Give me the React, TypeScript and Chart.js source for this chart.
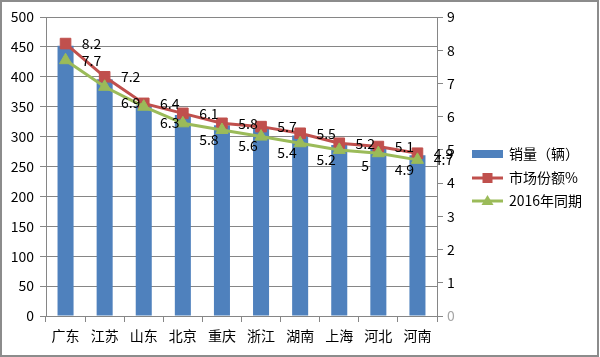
import React, { useEffect, useRef } from "react";
import { Chart, registerables } from "chart.js";

Chart.register(...registerables);

const categories = ["广东", "江苏", "山东", "北京", "重庆", "浙江", "湖南", "上海", "河北", "河南"];
const sales = [452, 396, 352, 336, 319, 313, 302, 286, 280, 269];
const share = [8.2, 7.2, 6.4, 6.1, 5.8, 5.7, 5.5, 5.2, 5.1, 4.9];
const share2016 = [7.7, 6.9, 6.3, 5.8, 5.6, 5.4, 5.2, 5.0, 4.9, 4.7];
const seriesNames = ["销量（辆）", "市场份额%", "2016年同期"];

const BLUE = "#4F81BD";
const RED = "#C0504D";
const GREEN = "#9BBB59";
const GRID = "#868686";
const FONT = '"Noto Sans CJK SC", "Noto Sans", sans-serif';

const framePlugin = {
  id: "frame",
  beforeDraw(chart: any) {
    const ctx = chart.ctx;
    ctx.save();
    ctx.fillStyle = "#fff";
    ctx.fillRect(0, 0, chart.width, chart.height);
    ctx.strokeStyle = "#8c8c8c";
    ctx.lineWidth = 2;
    ctx.strokeRect(1, 1, 597, 355);
    ctx.restore();
  },
};

const labelPlugin = {
  id: "valueLabels",
  afterDatasetsDraw(chart: any) {
    const ctx = chart.ctx;
    ctx.save();
    ctx.font = `14px ${FONT}`;
    ctx.fillStyle = "#000";
    ctx.textAlign = "center";
    ctx.textBaseline = "middle";
    [1, 2].forEach((di) => {
      const meta = chart.getDatasetMeta(di);
      const data = chart.data.datasets[di].data;
      meta.data.forEach((pt: any, i: number) => {
        let dy = 0;
        if (di === 2 && i > 0 && i < data.length - 1) dy = 16;
        ctx.fillText(String(data[i]), pt.x + 26, pt.y + dy);
      });
    });
    ctx.restore();
  },
};

const legendPlugin = {
  id: "customLegend",
  afterDraw(chart: any) {
    const ctx = chart.ctx;
    ctx.save();
    const x0 = 472;
    const x1 = 503;
    const rows = [154, 178, 201];
    ctx.font = `14px ${FONT}`;
    ctx.fillStyle = "#000";
    ctx.textAlign = "left";
    ctx.textBaseline = "middle";
    // bar swatch
    ctx.fillStyle = BLUE;
    ctx.fillRect(x0, rows[0] - 4, x1 - x0, 8);
    // red line + square
    ctx.strokeStyle = RED;
    ctx.lineWidth = 3;
    ctx.beginPath();
    ctx.moveTo(x0, rows[1]);
    ctx.lineTo(x1, rows[1]);
    ctx.stroke();
    ctx.fillStyle = RED;
    ctx.fillRect((x0 + x1) / 2 - 5, rows[1] - 5, 10, 10);
    // green line + triangle
    ctx.strokeStyle = GREEN;
    ctx.beginPath();
    ctx.moveTo(x0, rows[2]);
    ctx.lineTo(x1, rows[2]);
    ctx.stroke();
    ctx.fillStyle = GREEN;
    const cx = (x0 + x1) / 2;
    ctx.beginPath();
    ctx.moveTo(cx, rows[2] - 6);
    ctx.lineTo(cx + 6, rows[2] + 4);
    ctx.lineTo(cx - 6, rows[2] + 4);
    ctx.closePath();
    ctx.fill();
    ctx.fillStyle = "#000";
    seriesNames.forEach((n, i) => ctx.fillText(n, 509, rows[i]));
    ctx.restore();
  },
};

export default function App() {
  const ref = useRef<HTMLCanvasElement>(null);
  useEffect(() => {
    if (!ref.current) return;
    Chart.defaults.font.family = FONT;
    const chart = new Chart(ref.current, {
      type: "bar",
      data: {
        labels: categories,
        datasets: [
          {
            type: "bar",
            label: seriesNames[0],
            data: sales,
            backgroundColor: BLUE,
            yAxisID: "y",
            barPercentage: 0.41,
            categoryPercentage: 1,
            order: 2,
          },
          {
            type: "line",
            label: seriesNames[1],
            data: share,
            borderColor: RED,
            backgroundColor: RED,
            borderWidth: 3,
            pointStyle: "rect",
            pointRadius: 7.5,
            pointBackgroundColor: RED,
            pointBorderColor: RED,
            pointBorderWidth: 1,
            yAxisID: "y1",
            order: 1,
          },
          {
            type: "line",
            label: seriesNames[2],
            data: share2016,
            borderColor: GREEN,
            backgroundColor: GREEN,
            borderWidth: 3,
            pointStyle: "triangle",
            pointRadius: 7,
            pointBackgroundColor: GREEN,
            pointBorderColor: GREEN,
            pointBorderWidth: 1,
            yAxisID: "y1",
            order: 0,
          },
        ],
      },
      options: {
        responsive: false,
        animation: false,
        layout: { padding: { top: 17, left: 0, right: 0, bottom: 0 } },
        plugins: {
          legend: { display: false },
          tooltip: { enabled: false },
        },
        scales: {
          x: {
            offset: true,
            grid: {
              offset: true,
              drawOnChartArea: false,
              drawTicks: true,
              tickLength: 6,
              color: GRID,
            },
            border: { color: GRID, width: 1 },
            ticks: { color: "#000", font: { size: 14, family: FONT }, padding: 5, maxRotation: 0 },
            afterFit(scale: any) {
              scale.height = 41;
            },
          },
          y: {
            position: "left",
            min: 0,
            max: 500,
            ticks: { stepSize: 50, color: "#000", font: { size: 14, family: FONT }, padding: 6 },
            grid: { color: GRID, tickLength: 6, lineWidth: 1 },
            border: { color: GRID, width: 1 },
            afterFit(scale: any) {
              scale.width = 46;
            },
          },
          y1: {
            position: "right",
            min: 0,
            max: 9,
            ticks: {
              stepSize: 1,
              color: (c: any) => (c.tick && c.tick.value === 0 ? "#A6A6A6" : "#000"),
              font: { size: 14, family: FONT },
              padding: 4,
            },
            grid: { drawOnChartArea: false, color: GRID, tickLength: 6 },
            border: { color: GRID, width: 1 },
            afterFit(scale: any) {
              scale.width = 163;
            },
          },
        },
      },
      plugins: [framePlugin, labelPlugin, legendPlugin],
    } as any);
    return () => chart.destroy();
  }, []);
  return (
    <div style={{ position: "absolute", left: 0, top: 0, width: 600, height: 357 }}>
      <canvas ref={ref} width={600} height={357} />
    </div>
  );
}
